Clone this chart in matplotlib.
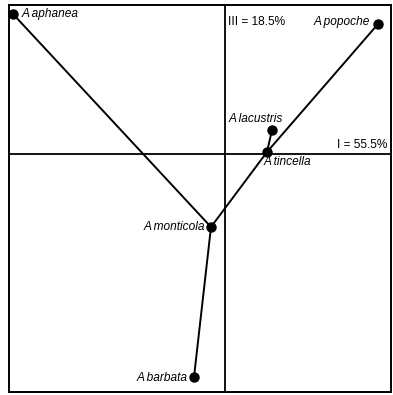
import matplotlib
matplotlib.use("Agg")
from matplotlib import pyplot as plt

# ordinacijos taskai (I ir III asys)
rusys = ["A aphanea", "A popoche", "A lacustris", "A tincella", "A monticola", "A barbata"]
ax1 = [-2.12, 1.53, 0.47, 0.42, -0.14, -0.31]
ax3 = [1.40, 1.30, 0.24, 0.02, -0.73, -2.23]

# minimalus jungiantis medis (indeksai i rusys)
briaunos = [(0, 4), (1, 3), (3, 4), (2, 3), (4, 5)]

plt.rcParams['font.family'] = ['Liberation Sans', 'DejaVu Sans']

fig = plt.figure(figsize=(3.93, 3.95), dpi=100)
ax = fig.add_axes([9 / 393, 1 - 392 / 395, 382 / 393, 387 / 395])
ax.set_xlim(-2.16, 1.66)
ax.set_ylim(-2.38, 1.49)
ax.set_xticks([])
ax.set_yticks([])
for s in ax.spines.values():
    s.set_linewidth(1.4)

ax.axhline(0, color="black", lw=1.3)
ax.axvline(0, color="black", lw=1.3)

for a, b in briaunos:
    ax.plot([ax1[a], ax1[b]], [ax3[a], ax3[b]], color="black", lw=1.4)
ax.plot(ax1, ax3, "o", color="black", ms=6.5)

# uzrasu vietos
pos = [(0.09, 0.0, "left", "center"),
       (-0.08, 0.02, "right", "center"),
       (-0.16, 0.11, "center", "center"),
       (-0.03, -0.1, "left", "center"),
       (-0.06, 0.0, "right", "center"),
       (-0.06, -0.01, "right", "center")]
for i, r in enumerate(rusys):
    dx, dy, ha, va = pos[i]
    ax.text(ax1[i] + dx, ax3[i] + dy, r, style="italic", fontsize=8.6,
            ha=ha, va=va)

ax.text(0.03, 1.32, "III = 18.5%", fontsize=8.6, ha="left", va="center")
ax.text(1.62, 0.09, "I = 55.5%", fontsize=8.6, ha="right", va="center")

fig.savefig("out.png", dpi=100)
